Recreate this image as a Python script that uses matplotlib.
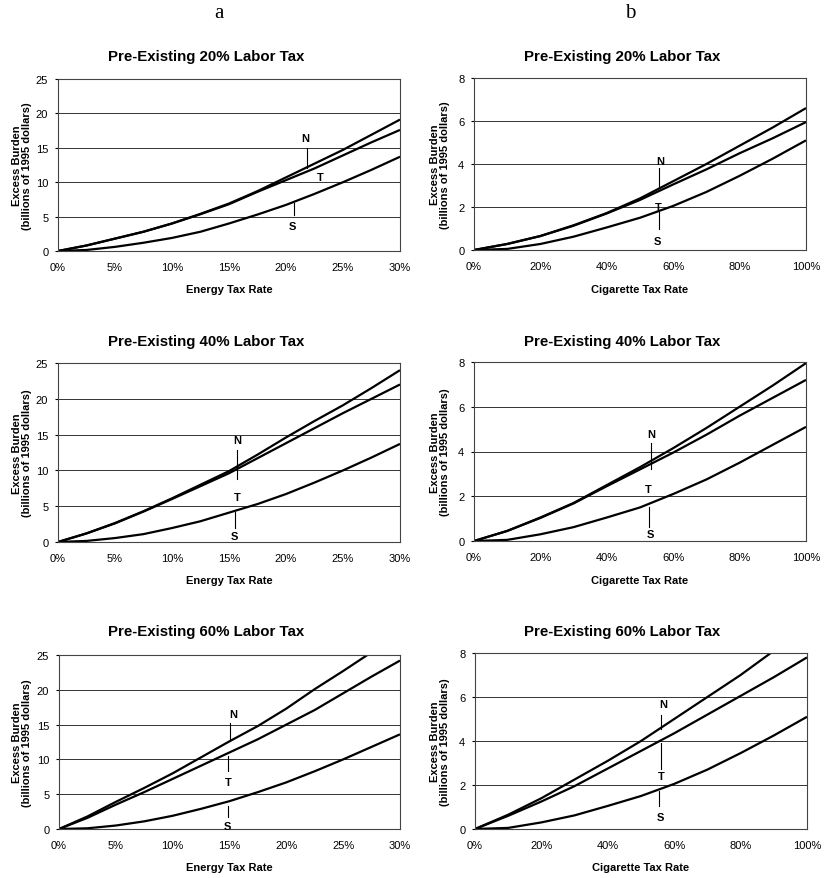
import numpy as np
import matplotlib.pyplot as plt

plt.rcParams['font.family'] = 'Liberation Sans'
plt.rcParams['axes.linewidth'] = 0.8

# x grids (percent)
energy_rate = [0, 2.5, 5, 7.5, 10, 12.5, 15, 17.5, 20, 22.5, 25, 27.5, 30]
cig_rate = [0, 10, 20, 30, 40, 50, 60, 70, 80, 90, 100]

# column a: energy tax, excess burden (billions of 1995 dollars)
energy_N20 = [0, 0.8, 1.8, 2.8, 4.0, 5.4, 6.9, 8.7, 10.7, 12.7, 14.7, 16.9, 19.1]
energy_T20 = [0, 0.8, 1.8, 2.8, 4.0, 5.35, 6.8, 8.6, 10.3, 12.0, 13.9, 15.8, 17.6]
energy_S20 = [0, 0.15, 0.6, 1.2, 1.9, 2.8, 4.0, 5.3, 6.7, 8.3, 10.0, 11.8, 13.7]

energy_N40 = [0, 1.2, 2.65, 4.3, 6.1, 8.0, 9.9, 12.2, 14.6, 16.9, 19.1, 21.5, 24.0]
energy_T40 = [0, 1.2, 2.6, 4.25, 6.0, 7.8, 9.6, 11.7, 13.8, 15.9, 18.0, 20.0, 22.0]
energy_S40 = [0, 0.15, 0.55, 1.1, 1.95, 2.9, 4.1, 5.3, 6.7, 8.3, 10.0, 11.8, 13.7]

energy_N60 = [0, 1.8, 3.9, 5.9, 8.0, 10.3, 12.6, 14.8, 17.3, 20.1, 22.7, 25.4, np.nan]
energy_T60 = [0, 1.6, 3.5, 5.3, 7.2, 9.1, 11.0, 12.9, 15.0, 17.1, 19.5, 21.9, 24.2]
energy_S60 = [0, 0.1, 0.5, 1.1, 1.9, 2.9, 4.0, 5.3, 6.7, 8.3, 10.0, 11.8, 13.6]

# column b: cigarette tax
cig_N20 = [0, 0.28, 0.65, 1.15, 1.72, 2.4, 3.2, 4.0, 4.85, 5.7, 6.6]
cig_T20 = [0, 0.28, 0.65, 1.13, 1.7, 2.33, 3.05, 3.75, 4.5, 5.2, 5.95]
cig_S20 = [0, 0.05, 0.28, 0.62, 1.05, 1.5, 2.05, 2.7, 3.45, 4.25, 5.1]

cig_N40 = [0, 0.45, 1.05, 1.7, 2.5, 3.3, 4.15, 5.05, 6.0, 6.95, 7.95]
cig_T40 = [0, 0.45, 1.03, 1.68, 2.45, 3.2, 3.95, 4.75, 5.6, 6.4, 7.2]
cig_S40 = [0, 0.05, 0.3, 0.62, 1.05, 1.5, 2.1, 2.75, 3.5, 4.3, 5.1]

cig_N60 = [0, 0.65, 1.4, 2.25, 3.1, 4.0, 5.0, 6.0, 7.0, 8.1, np.nan]
cig_T60 = [0, 0.6, 1.25, 1.95, 2.75, 3.55, 4.35, 5.2, 6.05, 6.9, 7.8]
cig_S60 = [0, 0.05, 0.3, 0.62, 1.05, 1.5, 2.05, 2.7, 3.45, 4.25, 5.1]

labor_taxes = ['20%', '40%', '60%']

W, H = 824, 879
fig = plt.figure(figsize=(W / 100, H / 100), dpi=100)


def px_axes(l, t, r, b):
    return fig.add_axes([l / W, 1 - b / H, (r - l) / W, (b - t) / H])


def panel(box, x, N, T, S, xmax, ymax, ystep, xstep, xlabel, title, title_x, title_y,
          xlab_y, ylab_x, marks):
    ax = px_axes(*box)
    for y in (N, T, S):
        ax.plot(x, y, color='black', lw=1.6, solid_capstyle='butt')
    ax.set_xlim(0, xmax)
    ax.set_ylim(0, ymax)
    ax.set_yticks(np.arange(0, ymax + 0.01, ystep))
    ax.set_xticks(np.arange(0, xmax + 0.01, xstep))
    ax.set_xticklabels([f'{int(v)}%' for v in np.arange(0, xmax + 0.01, xstep)])
    ax.set_yticklabels([f'{int(v)}' for v in np.arange(0, ymax + 0.01, ystep)])
    ax.tick_params(axis='x', length=0, pad=8, labelsize=8)
    ax.tick_params(axis='y', length=2, pad=5, labelsize=8)
    ax.grid(axis='y', color='#333333', lw=0.7)
    for s in ax.spines.values():
        s.set_color('#444444')
    ax.set_axisbelow(True)
    fig.text(title_x / W, 1 - title_y / H, title, ha='center', va='center',
             fontsize=10.8, fontweight='bold')
    l, t, r, b = box
    fig.text((l + r) / 2 / W, 1 - xlab_y / H, xlabel, ha='center', va='center',
             fontsize=8, fontweight='bold')
    fig.text(ylab_x / W, 1 - (t + b) / 2 / H, 'Excess Burden\n(billions of 1995 dollars)',
             ha='center', va='center', rotation=90, fontsize=8, fontweight='bold',
             linespacing=1.1)
    # N / T / S labels with leader lines
    for name, lx, ly, seg in marks:
        ax.text(lx, ly, name, ha='center', va='center', fontsize=8, fontweight='bold')
        if seg is not None:
            sx, y0, y1 = seg
            ax.plot([sx, sx], [y0, y1], color='black', lw=0.8)
    return ax


rows = [
    dict(eN=energy_N20, eT=energy_T20, eS=energy_S20, cN=cig_N20, cT=cig_T20, cS=cig_S20,
         boxa=(58, 80, 400, 252), boxb=(474, 79, 806, 251), ty=57, xly=290,
         marka=[('N', 21.7, 16.4, (21.8, 15.0, 12.0)), ('T', 23.0, 10.8, None),
                ('S', 20.6, 3.7, (20.7, 5.3, 7.0))],
         markb=[('N', 56, 4.15, (55.6, 3.8, 2.9)), ('T', 55.6, 2.0, None),
                ('S', 55.3, 0.4, (55.6, 1.75, 0.98))]),
    dict(eN=energy_N40, eT=energy_T40, eS=energy_S40, cN=cig_N40, cT=cig_T40, cS=cig_S40,
         boxa=(58, 364, 400, 543), boxb=(474, 363, 806, 542), ty=342, xly=581,
         marka=[('N', 15.7, 14.2, (15.7, 12.9, 8.8)), ('T', 15.7, 6.3, None),
                ('S', 15.5, 0.9, (15.5, 4.2, 1.9))],
         markb=[('N', 53.4, 4.8, (53.2, 4.4, 3.23)), ('T', 52.6, 2.34, None),
                ('S', 53.0, 0.33, (52.8, 1.52, 0.63))]),
    dict(eN=energy_N60, eT=energy_T60, eS=energy_S60, cN=cig_N60, cT=cig_T60, cS=cig_S60,
         boxa=(59, 656, 400, 830), boxb=(475, 654, 807, 830), ty=632, xly=868,
         marka=[('N', 15.3, 16.5, (15.0, 15.2, 12.7)), ('T', 14.9, 6.8, (14.9, 10.5, 8.4)),
                ('S', 14.8, 0.5, (14.9, 3.3, 1.7))],
         markb=[('N', 56.8, 5.7, (56.1, 5.2, 4.55)), ('T', 56.1, 2.43, (56.1, 3.9, 2.73)),
                ('S', 56.0, 0.53, (55.5, 1.75, 1.06))]),
]

for lab, row in zip(labor_taxes, rows):
    title = f'Pre-Existing {lab} Labor Tax'
    panel(row['boxa'], energy_rate, row['eN'], row['eT'], row['eS'], 30, 25, 5, 5,
          'Energy Tax Rate', title, 206, row['ty'], row['xly'], 22, row['marka'])
    panel(row['boxb'], cig_rate, row['cN'], row['cT'], row['cS'], 100, 8, 2, 20,
          'Cigarette Tax Rate', title, 622, row['ty'], row['xly'], 440, row['markb'])

fig.text(219 / W, 1 - 14 / H, 'a', ha='center', va='center', fontsize=15,
         family='Liberation Serif')
fig.text(630 / W, 1 - 14 / H, 'b', ha='center', va='center', fontsize=15,
         family='Liberation Serif')

fig.savefig('out.png', dpi=100, facecolor='white')
